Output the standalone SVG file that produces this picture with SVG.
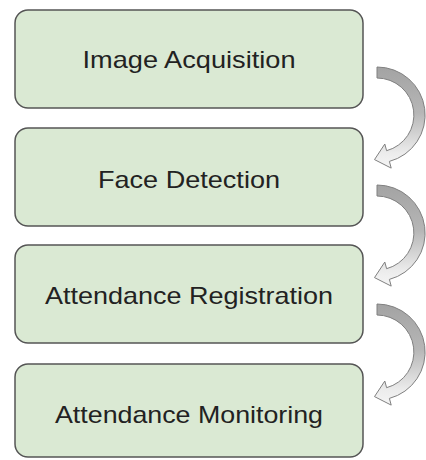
<svg xmlns="http://www.w3.org/2000/svg" xmlns:xlink="http://www.w3.org/1999/xlink" width="426" height="460" viewBox="0 0 426 460">
  <style>
    .box { fill: #dae9d3; stroke: #555555; stroke-width: 1.5; }
    .label { font-family: "Liberation Sans", Arial, sans-serif; font-size: 24px; fill: #222222; text-anchor: middle; }
    .curl { fill: url(#curlFill); stroke: #808080; stroke-width: 1; stroke-linejoin: round; }
  </style>
  <defs>
    <linearGradient id="curlFill" x1="0" y1="0" x2="0" y2="1">
      <stop offset="0" stop-color="#a3a3a3"/>
      <stop offset="0.45" stop-color="#b6b6b6"/>
      <stop offset="0.85" stop-color="#ececec"/>
      <stop offset="1" stop-color="#f5f5f5"/>
    </linearGradient>
    <!-- curved step arrow, centred on its arc centre -->
    <path id="curl" d="M 0,-48 A 48 48 0 0 1 12.4,46.4 L 14.2,53.1 L -2.5,44.6 L 7.8,29 L 9.6,35.7 A 37 37 0 0 0 0,-37 Z"/>
  </defs>

  <g id="connectors">
    <use xlink:href="#curl" href="#curl" class="curl" transform="translate(377,115)"/>
    <use xlink:href="#curl" href="#curl" class="curl" transform="translate(377,233)"/>
    <use xlink:href="#curl" href="#curl" class="curl" transform="translate(377,352)"/>
  </g>

  <g id="image-acquisition">
    <rect class="box" x="15" y="10" width="348" height="98" rx="13"/>
    <text class="label" x="189" y="68" textLength="213" lengthAdjust="spacingAndGlyphs">Image Acquisition</text>
  </g>
  <g id="face-detection">
    <rect class="box" x="15" y="128" width="348" height="98" rx="13"/>
    <text class="label" x="189" y="188" textLength="182" lengthAdjust="spacingAndGlyphs">Face Detection</text>
  </g>
  <g id="attendance-registration">
    <rect class="box" x="15" y="245" width="348" height="98" rx="13"/>
    <text class="label" x="189" y="303.5" textLength="288" lengthAdjust="spacingAndGlyphs">Attendance Registration</text>
  </g>
  <g id="attendance-monitoring">
    <rect class="box" x="15" y="364" width="348" height="93" rx="13"/>
    <text class="label" x="189" y="423" textLength="268" lengthAdjust="spacingAndGlyphs">Attendance Monitoring</text>
  </g>
</svg>
